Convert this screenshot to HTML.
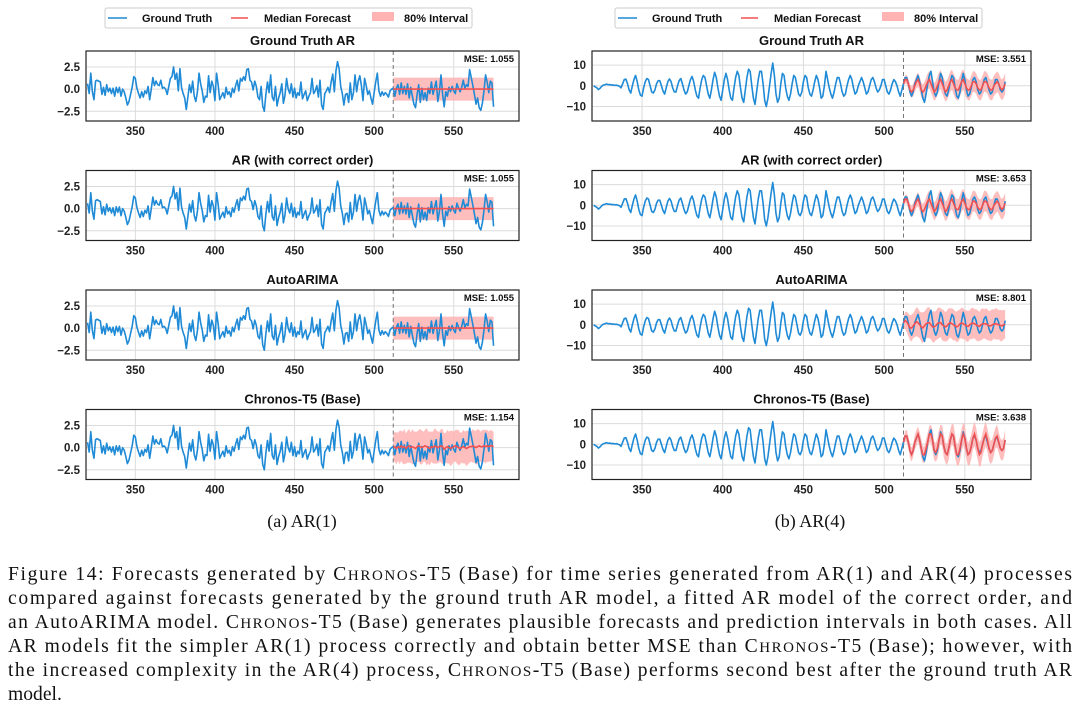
<!DOCTYPE html>
<html><head><meta charset="utf-8"><style>
html,body{margin:0;padding:0;background:#fff;}
svg{display:block;}
.tk{font-family:"Liberation Sans",sans-serif;font-weight:bold;font-size:11.5px;fill:#222;}
.ttl{font-family:"Liberation Sans",sans-serif;font-weight:bold;font-size:13px;fill:#111;}
.mse{font-family:"Liberation Sans",sans-serif;font-weight:bold;font-size:9.5px;fill:#111;}
.lg{font-family:"Liberation Sans",sans-serif;font-weight:bold;font-size:11px;fill:#111;}
.cap{font-family:"Liberation Serif",serif;font-size:19.6px;fill:#111;}
.sub{font-family:"Liberation Serif",serif;font-size:18px;fill:#111;}
</style></head><body>
<svg id="fig" width="1080" height="712" viewBox="0 0 1080 712" xmlns="http://www.w3.org/2000/svg"></svg>
<script>
const timeStart = 320;
const forecastStart = 512;
const ar1Truth = [0.6,-0.5,1.8,-0.3,-1.2,0.9,1.0,0.9,0.8,-0.6,0.2,-0.7,0.5,-0.3,0.1,-0.5,
0.1,-0.8,0.2,-0.4,0.2,-0.8,0.0,-0.3,-1.0,-1.8,-1.4,-0.6,0.2,1.4,1.2,0.1,
-0.5,-1.0,-0.3,-0.9,-0.2,-0.5,0.3,-1.2,0.0,1.3,0.4,0.9,0.5,0.4,1.0,0.1,
0.2,0.0,-0.6,0.3,1.2,1.4,2.5,1.1,1.8,-0.2,2.3,0.2,-0.5,-1.0,-2.3,-0.9,
0.5,-0.4,0.9,-0.8,-1.4,-0.3,1.8,0.6,-0.2,-1.5,-0.8,-0.9,1.5,-0.4,0.9,0.3,
-1.3,1.8,0.5,-1.2,-0.8,-0.4,-1.0,0.2,-0.6,-0.3,-0.9,0.1,-0.4,0.4,1.0,-0.2,
1.2,0.9,1.4,1.0,2.2,2.3,1.0,0.8,-0.1,0.9,0.3,-0.9,-1.2,0.3,-1.9,-2.5,
-0.6,0.8,-0.4,1.6,-0.9,-1.3,0.3,-1.9,-1.0,-0.4,0.6,-1.6,-0.7,1.2,0.0,-0.5,
0.6,-0.9,0.1,-1.0,-0.4,-0.7,0.8,-1.1,-0.6,-0.2,-1.3,-0.8,-0.4,1.2,-0.5,-0.2,
0.4,-0.9,1.0,-1.8,-2.3,-0.5,-0.2,0.2,-0.4,0.8,1.7,-0.3,2.0,3.1,2.3,0.3,
-0.5,-1.8,-0.6,-0.5,-1.5,0.7,-1.2,-0.4,1.6,-0.3,0.9,1.5,0.4,-1.3,1.2,0.4,
-0.6,-0.2,-1.0,-1.7,-0.4,0.8,1.8,-0.2,-0.8,-0.3,-0.7,-0.4,-0.6,-0.9,-0.2,0.0,
0.1,-0.8,0.1,0.5,-0.6,0.7,-0.5,0.3,-0.6,0.6,-1.0,0.2,-0.8,-1.7,-2.1,-0.6,
0.5,-1.5,0.1,-1.2,-0.4,-1.3,0.1,-0.5,0.8,-0.6,0.2,0.9,-1.4,-0.3,1.6,-0.6,
-2.0,-0.3,-0.8,0.2,-0.3,0.3,-0.2,-0.5,0.6,0.1,-0.3,0.2,1.0,0.1,0.5,0.3,
2.2,1.3,0.4,-0.6,-1.7,-1.0,-2.1,-2.4,-1.6,-0.2,1.6,0.8,-0.4,0.9,0.7,-2.0];
const ar4Truth = [0,-0.5,-1,-1.8,-1.2,-0.3,0.3,0.5,0.8,0.5,0.6,0.3,0.4,0.2,0.3,0.1,-0.2,
-1,1,3,3.2,1,-2,-3.5, 0,3,5,2,-2,-4.5,-5, -1,2,3.5,3,0,-3,-3.5, -2,1,2.5,2.5,0,-2.5,-4,
-1,2,3.3,2,-1,-3,-3, 0,2.5,3.5,1,-2,-4,-3, 0,3,4.5,2,-2,-5,-6, -1,3,5,4,0,-4,-6,
-2,3,6.5,4,-1,-5,-7, -2,3,6,3,-2,-6,-7, -1,4,7,5,-1,-6,-8, -2,4,8,7,0,-6,-9,
-3,3,7,7,1,-7,-10, -6,0,6,11,5,-4,-8, -6,1,6,5,-1,-5,-7, -4,1,5,4,0,-4,-5,
-3,2,5,4,-1,-4,-5, -2,2,5,3,-1,-6,-5, 0,7,3,-1,-4,-6,-3, 1,4,4,1,-3,-5,-4,
0,3,5,3,-1,-4,-3, 0,2,4,2,-1,-4,-3, 0,3,4,2,-1,-3,-2, 0,3,3,0,-3,-4,-2,
1,3,2,0,-3,-5,-2, 1,4,4,1,-3,-5,-3, 1,3,5,2,-2,-6,-8, -4,1,5,7,2,-3,-5,
-3,2,6,4,-1,-4,-5, -2,2,5,4,-1,-5,-6, -3,2,6,3,-2,-5,-4, -1,3,4,2,-2,-4,-3,
0,3,4,1,-2,-4,-3, 0,3,3,1,-2,-3,-2, 2];
const ar1FlatMedian = [0,0,0,0,0,0,0,0,0,0,0,0,0,0,0,0,0,0,0,0,0,0,0,0,0,0,0,0,0,0,0,0,0,0,0,0,0,0,0,0,0,0,0,0,0,0,0,0,0,0,0,0,0,0,0,0,0,0,0,0,0,0,0,0];
const ar1FlatHalf = [1.3,1.3,1.3,1.3,1.3,1.3,1.3,1.3,1.3,1.3,1.3,1.3,1.3,1.3,1.3,1.3,1.3,1.3,1.3,1.3,1.3,1.3,1.3,1.3,1.3,1.3,1.3,1.3,1.3,1.3,1.3,1.3,1.3,1.3,1.3,1.3,1.3,1.3,1.3,1.3,1.3,1.3,1.3,1.3,1.3,1.3,1.3,1.3,1.3,1.3,1.3,1.3,1.3,1.3,1.3,1.3,1.3,1.3,1.3,1.3,1.3,1.3,1.3,1.3];
const ar1ChronosMedian = [0.0,0.1,-0.1,0.1,0.0,0.2,0.0,0.1,-0.1,0.1,0.2,0.0,0.1,0.0,-0.1,0.1,0.2,0.1,0.0,0.1,0.2,0.1,0.0,-0.1,0.1,0.0,0.2,0.1,0.0,0.1,0.2,0.1,-0.2,0.0,0.1,0.0,-0.1,0.0,0.1,0.2,0.1,0.0,-0.1,0.0,0.1,0.0,-0.1,0.0,0.1,0.1,0.2,0.1,0.0,0.1,0.2,0.1,0.1,0.2,0.1,0.2,0.1,0.2,0.2,0.1];
const ar1ChronosHalf = [1.5,1.7,1.8,1.6,1.9,1.7,1.8,2.0,1.7,1.8,1.9,1.7,2.0,1.8,1.9,1.7,1.8,2.0,1.9,1.7,1.8,2.1,1.8,1.9,1.7,1.8,2.0,1.9,1.8,1.7,1.9,2.0,1.8,1.7,1.9,1.8,2.0,1.9,1.7,1.8,1.9,2.0,1.8,1.7,1.9,1.8,2.0,1.9,1.8,1.7,1.9,1.8,1.9,2.0,1.8,1.7,1.9,1.8,1.9,1.8,1.7,1.8,1.7,1.7];
const ar4ArMedian = [1,3,3,1,-2,-3,-2, 0,2,3,1,-2,-3,-2, 0,2,3,1,-1,-3,-2, 0,2,3,1,-1,-3,-2, 0,2,3,1,-1,-2,-2, 0,2,3,1,-1,-2,-2, 0,2,2,1,-1,-2,-2, 0,2,2,1,-1,-2,-2, 0,1,2,1,-1,-2,-1, 1];
const ar4ArHalf = [1.5,2,2.2,2.4,2.6,2.8,3,3,3.2,3.4,3.5,3.6,3.7,3.8,4,4,4.1,4.2,4.3,4.3,4.4,4.5,4.5,4.6,4.6,4.7,4.7,4.8,4.8,4.9,4.9,5,5,5,5,5,5,5,5,5,5,5,5,5,5,5,5,5,5,5,5,5,5,5,5,5,5,5,5,5,5,5,5,5];
const ar4ArimaMedian = [1,2,1.5,0,-1.5,-1.5,-0.5, 0.5,1.5,1,0,-1,-1.5,-0.5, 0.5,1,1,0,-1,-1,-0.5, 0.5,1,1,0,-0.5,-1,-0.5, 0.5,1,0.5,0,-0.5,-1,-0.5, 0.5,0.8,0.5,0,-0.5,-0.8,0, 0.5,0.8,0.5,0,-0.5,-0.8,0, 0.5,0.5,0.5,0,-0.5,-0.5,0, 0.3,0.5,0.3,0,-0.3,-0.5,0, 0.3];
const ar4ArimaHalf = [3,4,5,5.5,6,6.5,6,6.5,7,7,6.5,7,7.5,7,7,7.5,7.5,7,7.5,7.5,7,7.5,7.5,7,7.5,7.5,7,7.5,7.5,7,7.5,7.5,7,7.5,7.5,7,7.5,7.5,7,7.5,7.5,7,7.5,7.5,7,7.5,7.5,7,7.5,7.5,7,7.5,7.5,7,7.5,7.5,7,7.5,7.5,7,7.5,7.5,7,7];
const ar4ChronosMedian = [1,4,4,1,-3,-5,-3, 1,3,5,2,-2,-5,-5, -2,1,5,5,2,-3,-4, -2,2,5,4,-1,-4,-5, -2,2,5,4,-1,-5,-5, -2,2,5,3,-2,-5,-4, -1,3,5,2,-2,-5,-4, 0,3,5,2,-2,-4,-3, 0,3,4,1,-2,-3,-2, 2];
const ar4ChronosHalf = [2,2.5,3,3,3.5,3.5,3,3.5,4,3.5,4,4.5,4,4,4.5,4.5,4,4.5,5,4.5,4.5,5,5,4.5,5,5.5,5,5,5.5,5,5,5.5,5.5,5,5.5,6,5.5,5.5,6,5.5,5.5,6,6,5.5,6,6,5.5,6,6,5.5,6,6,5.5,6,5.5,5.5,5.5,5,5.5,5,5,5,5,5];
const panelTitles = ["Ground Truth AR","AR (with correct order)","AutoARIMA","Chronos-T5 (Base)"];
const ar1Mse = ["MSE: 1.055","MSE: 1.055","MSE: 1.055","MSE: 1.154"];
const ar4Mse = ["MSE: 3.551","MSE: 3.653","MSE: 8.801","MSE: 3.638"];
const xTicks = [350,400,450,500,550];
const ar1YTicks = [-2.5,0,2.5];
const ar4YTicks = [-10,0,10];

const NS="http://www.w3.org/2000/svg";
const svg=document.getElementById('fig');
function el(tag,attrs,parent){const e=document.createElementNS(NS,tag);for(const k in attrs)e.setAttribute(k,attrs[k]);(parent||svg).appendChild(e);return e;}

const cols=[
 {x0:86,x1:519,ymin:-3.6,ymax:4.3,yt:ar1YTicks,yfmt:v=>v.toFixed(1).replace('-','−'),truth:ar1Truth,mse:ar1Mse,
  fc:[[ar1FlatMedian,ar1FlatHalf],[ar1FlatMedian,ar1FlatHalf],[ar1FlatMedian,ar1FlatHalf],[ar1ChronosMedian,ar1ChronosHalf]],name:'ar1'},
 {x0:592,x1:1031,ymin:-17,ymax:16.8,yt:ar4YTicks,yfmt:v=>String(v).replace('-','−'),truth:ar4Truth,mse:ar4Mse,
  fc:[[ar4ArMedian,ar4ArHalf],[ar4ArMedian,ar4ArHalf],[ar4ArimaMedian,ar4ArimaHalf],[ar4ChronosMedian,ar4ChronosHalf]],name:'ar4'}];
const XMIN=319,XMAX=591;

cols.forEach((c,ci)=>{
 for(let p=0;p<4;p++){
  const top=51+p*119.5,h=70,bot=top+h;
  const g=el('g',{});
  
  
  const xs=t=>c.x0+(t-XMIN)/(XMAX-XMIN)*(c.x1-c.x0);
  const ys=v=>bot-(v-c.ymin)/(c.ymax-c.ymin)*h;
  const t=el('text',{x:(c.x0+c.x1)/2,y:top-6,'text-anchor':'middle',class:'ttl'},g);t.textContent=panelTitles[p];
  
  xTicks.forEach(v=>{el('line',{x1:xs(v),x2:xs(v),y1:top,y2:bot,stroke:'#dcdcdc','stroke-width':1},g);
   const tx=el('text',{x:xs(v),y:bot+14,'text-anchor':'middle',class:'tk'},g);tx.textContent=v;
   });
  c.yt.forEach(v=>{el('line',{x1:c.x0,x2:c.x1,y1:ys(v),y2:ys(v),stroke:'#dcdcdc','stroke-width':1},g);
   const ty=el('text',{x:c.x0-6,y:ys(v)+4,'text-anchor':'end',class:'tk'},g);ty.textContent=c.yfmt(v);
   });
  const [med,half]=c.fc[p];
  let up='',lo='';
  med.forEach((m,i)=>{up+=(i?'L':'M')+xs(forecastStart+i)+','+ys(m+half[i]);});
  for(let i=med.length-1;i>=0;i--)lo+='L'+xs(forecastStart+i)+','+ys(med[i]-half[i]);
  const band=el('path',{d:up+lo+'Z',fill:'#ffb3b3',opacity:0.85},g);
  
  el('line',{x1:xs(forecastStart),x2:xs(forecastStart),y1:top,y2:bot,stroke:'#777','stroke-width':1,'stroke-dasharray':'4,3'},g);
  let d='';c.truth.forEach((v,i)=>{d+=(i?'L':'M')+xs(timeStart+i).toFixed(2)+','+ys(v).toFixed(2);});
  const ln=el('path',{d:d,fill:'none',stroke:'#1f8ad6','stroke-width':1.6,'stroke-linejoin':'round'},g);
  
  let dm='';med.forEach((m,i)=>{dm+=(i?'L':'M')+xs(forecastStart+i)+','+ys(m);});
  const ml=el('path',{d:dm,fill:'none',stroke:'#f05050','stroke-width':1.6},g);
  
  el('rect',{x:c.x0,y:top,width:c.x1-c.x0,height:h,fill:'none',stroke:'#222','stroke-width':1.2},g);
  const ms=el('text',{x:c.x1-5,y:top+11,'text-anchor':'end',class:'mse'},g);ms.textContent=c.mse[p];
  
 }
 const lx=ci===0?105:615;
 const lg=el('g',{});
 
 el('rect',{x:lx,y:8,width:367,height:20,rx:2,fill:'#fff',stroke:'#ccc'},lg);
 el('line',{x1:lx+3,x2:lx+22,y1:18,y2:18,stroke:'#1f8ad6','stroke-width':1.6},lg);
 let t1=el('text',{x:lx+37,y:22,class:'lg'},lg);t1.textContent='Ground Truth';
 el('line',{x1:lx+126,x2:lx+143,y1:18,y2:18,stroke:'#f05050','stroke-width':1.6},lg);
 let t2=el('text',{x:lx+159,y:22,class:'lg'},lg);t2.textContent='Median Forecast';
 el('rect',{x:lx+267,y:12,width:22,height:9,fill:'#ffb3b3'},lg);
 let t3=el('text',{x:lx+299,y:22,class:'lg'},lg);t3.textContent='80% Interval';
});
</script>
<div style="position:absolute;left:0;top:0;width:1080px;height:712px;pointer-events:none">
<svg width="1080" height="712" style="position:absolute;left:0;top:0">
<text class="sub" x="302" y="527" text-anchor="middle">(a) AR(1)</text>
<text class="sub" x="810" y="527" text-anchor="middle">(b) AR(4)</text>
<g>
<text class="cap" x="8" y="580" textLength="1064" lengthAdjust="spacing">Figure 14: Forecasts generated by C<tspan font-size="15">HRONOS</tspan>-T5 (Base) for time series generated from AR(1) and AR(4) processes</text>
<text class="cap" x="8" y="604" textLength="1064" lengthAdjust="spacing">compared against forecasts generated by the ground truth AR model, a fitted AR model of the correct order, and</text>
<text class="cap" x="8" y="628" textLength="1064" lengthAdjust="spacing">an AutoARIMA model. C<tspan font-size="15">HRONOS</tspan>-T5 (Base) generates plausible forecasts and prediction intervals in both cases. All</text>
<text class="cap" x="8" y="652" textLength="1064" lengthAdjust="spacing">AR models fit the simpler AR(1) process correctly and obtain better MSE than C<tspan font-size="15">HRONOS</tspan>-T5 (Base); however, with</text>
<text class="cap" x="8" y="676" textLength="1064" lengthAdjust="spacing">the increased complexity in the AR(4) process, C<tspan font-size="15">HRONOS</tspan>-T5 (Base) performs second best after the ground truth AR</text>
<text class="cap" x="8" y="700">model.</text>
</g>
</svg></div>
</body></html>
